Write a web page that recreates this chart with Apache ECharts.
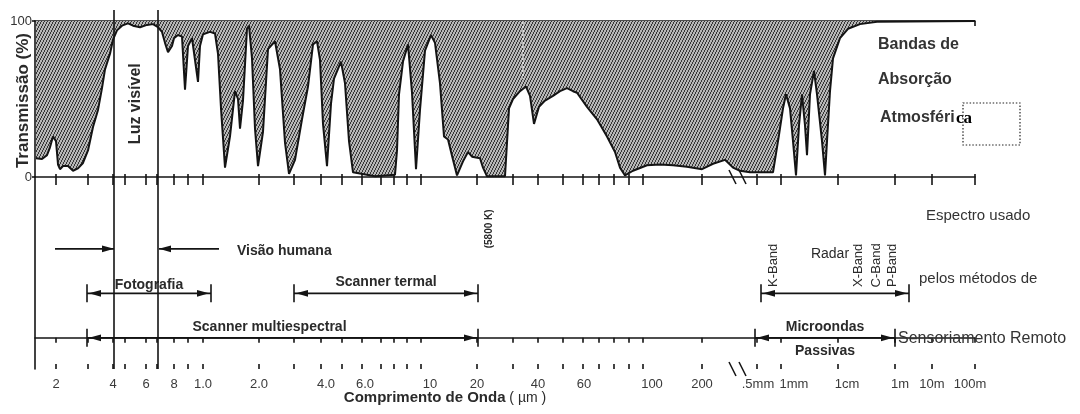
<!DOCTYPE html>
<html>
<head>
<meta charset="utf-8">
<script src="https://cdn.jsdelivr.net/npm/echarts@6.0.0/dist/echarts.min.js"></script>
<style>
html,body{margin:0;padding:0;background:#fff;}
#chart{width:1080px;height:414px;}
</style>
</head>
<body>
<div id="chart"></div>
<script>
// Horizontal axis = positions along the original's hand-drawn, non-uniform wavelength scale
// (0 = left edge at 0.15 µm, 940 = 100 m). Tick labels below name the wavelengths.
const curvePos = [1,7,12,15,18,21,23,25,28,33,38,43,48,53,58,63,67,70,75,78,82,87,93,98,105,112,118,123,127,130,133,137,139,143,147,150,153,157,160,163,165,168,175,180,183,186,190,195,200,203,205,208,212,214,217,220,223,228,233,240,245,250,254,260,267,273,278,282,285,288,292,296,299,306,310,314,318,340,360,362,364,368,373,377,381,385,390,396,400,405,409,413,418,422,428,433,437,445,448,452,470,472,474,478,485,491,495,499,504,510,518,525,532,538,542,552,562,572,580,585,590,598,612,625,638,652,667,678,690,698,705,715,738,744,748,751,755,758,761,764,767,770,772,775,779,782,787,790,792,795,798,805,813,825,842,940];
// Atmospheric transmission (%)
const transmission = [12,11.5,14,19,26,23,8,5,7,7,4,5.5,9,17,32,43,57,69,79,88,94,97,98.5,97,96,97.5,98,96,93,86,80,84,89,91,90,56,84,89,75,61,84,91.5,93,92,79,44,6,26,55,50,31,49,95,97,76,31,7,29,82,87,69,22,2,11,37,58,85,87,75,34,7,47,63,74,60,23,3,0.5,1.5,17,53,74,85,54,5,43,81,91,86,60,26,24,11,1,10,16,13,12,6,0.5,0.5,22,44,50,55,58,52,34,45,49,52,55,57,55,54,45,37,26,16,6,1,4,7.5,8,7.5,6.5,5,8.5,11,6,4,3,3,27,44,53,44,23,1,33,53,33,14,53,68,53,23,1,23,55,76,89,95,98,99.5,100];

// Wavelength scale: tick marks and labels
const tickPos = [21,53,78,90,111,122,139,153,168,224,259,286,307,327,346,359,372,386,442,478,503,528,548,564,579,594,608,667,722,746,803,860,897,940];
const labelPos = [21,78,111,139,168,224,291,330,395,442,503,549,617,667,723,759,812,865,897,935];
const labelText = ['2','4','6','8','1.0','2.0','4.0','6.0','10','20','40','60','100','200','.5mm','1mm','1cm','1m','10m','100m'];

// Visible light limits (0.4 and 0.7 µm) and sun temperature marker (5800 K)
const visibleLimits = [79, 123];
const sunMarkPos = 488;
const sunMarkTop = 100, sunMarkBottom = 63;
const sunLabelPos = 454;

// Spectrum used by remote-sensing methods (rows: 0 bottom, 2 top)
const spanLabels = ['Fotografia','Scanner termal','Scanner multiespectral','Radar','Microondas\nPassivas'];
const spanFrom = [52,259,52,726,720];
const spanTo = [176,443,443,874,860];
const spanRow = [1,1,0,1,0];
const radarBands = ['K-Band','X-Band','C-Band','P-Band'];
const radarBandPos = [738,823,841,857];
const visionFrom = [20,184];
const visionTo = [79,124];
const visionRow = 2;
const breakPos = [697,707];

const INK = '#141414';
const TXT = '#2a2a2a';
const SANS = '"Liberation Sans", Arial, Helvetica, sans-serif';

function makeHatch(){
  const c = document.createElement('canvas'); c.width = 6; c.height = 6;
  const ctx = c.getContext('2d');
  const img = ctx.createImageData(6,6);
  for (let y=0;y<6;y++) for (let x=0;x<6;x++){
    const k = (2*x + y) % 6;
    const v = k < 2 ? 55 : 182;
    const o = (y*6+x)*4;
    img.data[o]=v; img.data[o+1]=v; img.data[o+2]=v; img.data[o+3]=255;
  }
  ctx.putImageData(img,0,0);
  return c;
}
const hatch = {image: makeHatch(), repeat: 'repeat'};

function head(tip, y, dir){
  const L = 12, W = 3.3;
  return {type:'polygon', shape:{points:[[tip,y],[tip-dir*L,y-W],[tip-dir*L,y+W]]}, style:{fill:INK}};
}
function txt(t, x, y, font, extra){
  return Object.assign({type:'text', x:x, y:y, style:{text:t, font:font, fill:TXT, align:'center', verticalAlign:'middle'}}, extra||{});
}

function renderSpan(params, api){
  const i = params.dataIndex;
  const a = api.coord([api.value(0), api.value(2)]);
  const b = api.coord([api.value(1), api.value(2)]);
  const y = a[1];
  const name = spanLabels[i];
  const ls = {stroke:INK, lineWidth:1.6};
  const kids = [
    {type:'line', shape:{x1:a[0],y1:y,x2:b[0],y2:y}, style:ls},
    {type:'line', shape:{x1:a[0],y1:y-9,x2:a[0],y2:y+9}, style:ls},
    {type:'line', shape:{x1:b[0],y1:y-9,x2:b[0],y2:y+9}, style:ls},
    head(a[0]+2, y, -1), head(b[0]-2, y, 1)
  ];
  const mid = (a[0]+b[0])/2;
  if (name === 'Radar') {
    kids.push(txt(name, mid-5, y-39, '14px ' + SANS));
  } else if (name.indexOf('\n') >= 0) {
    const parts = name.split('\n');
    kids.push(txt(parts[0], mid, y-11, 'bold 14px ' + SANS));
    kids.push(txt(parts[1], mid, y+13, 'bold 14px ' + SANS));
  } else {
    const off = name === 'Fotografia' ? 8 : 11;
    const shift = name === 'Scanner multiespectral' ? -13 : 0;
    kids.push(txt(name, mid+shift, y-off, 'bold 14px ' + SANS));
  }
  return {type:'group', children:kids};
}

function renderVision(params, api){
  const a = api.coord([api.value(0), api.value(2)]);
  const b = api.coord([api.value(1), api.value(2)]);
  const dir = b[0] > a[0] ? 1 : -1;
  const kids = [
    {type:'line', shape:{x1:a[0],y1:a[1],x2:b[0],y2:b[1]}, style:{stroke:INK,lineWidth:1.6}},
    head(b[0], b[1], dir)
  ];
  if (params.dataIndex === 1) {
    kids.push({type:'text', x:a[0]+18, y:a[1]+2, style:{text:'Visão humana', font:'bold 14px '+SANS, fill:TXT, align:'left', verticalAlign:'middle'}});
  }
  return {type:'group', children:kids};
}

function renderBand(params, api){
  const p = api.coord([api.value(0), api.value(1)]);
  return {type:'text', x:p[0], y:p[1]-28, rotation:Math.PI/2,
    style:{text:radarBands[params.dataIndex], font:'13px '+SANS, fill:TXT, align:'center', verticalAlign:'middle'}};
}

const baseX = {type:'value', min:0, max:940, splitLine:{show:false}};
const option = {
  animation:false,
  backgroundColor:'#fff',
  grid:[
    {left:35, right:105, top:21, height:156, outerBoundsMode:'none', containLabel:false},
    {left:35, right:105, top:177, height:192, outerBoundsMode:'none', containLabel:false}
  ],
  xAxis:[
    Object.assign({}, baseX, {gridIndex:0, position:'bottom',
      axisLine:{show:true, lineStyle:{color:INK, width:1.6}},
      axisTick:{show:true, customValues:tickPos, length:8, lineStyle:{color:INK, width:1.6}},
      axisLabel:{show:false}}),
    Object.assign({}, baseX, {gridIndex:0, position:'bottom',
      axisLine:{show:false},
      axisTick:{show:true, inside:true, customValues:tickPos, length:3, lineStyle:{color:INK, width:1.6}},
      axisLabel:{show:false}}),
    Object.assign({}, baseX, {gridIndex:0, position:'top',
      axisLine:{show:true, lineStyle:{color:INK, width:1.6}},
      axisTick:{show:true, inside:true, customValues:[940], length:5, lineStyle:{color:INK, width:1.6}},
      axisLabel:{show:false}}),
    Object.assign({}, baseX, {gridIndex:1, position:'bottom',
      axisLine:{show:true, lineStyle:{color:INK, width:1.6}},
      axisTick:{show:true, customValues:tickPos, length:5, lineStyle:{color:INK, width:1.6}},
      axisLabel:{show:true, customValues:labelPos, margin:9, color:'#3a3a3a', fontSize:13,
        fontFamily:'"Liberation Sans Narrow", "Liberation Sans", Arial, sans-serif',
        formatter: v => { const k = labelPos.indexOf(v); return k >= 0 ? labelText[k] : ''; }}}),
    Object.assign({}, baseX, {gridIndex:1, position:'bottom',
      axisLine:{show:false},
      axisTick:{show:true, inside:true, customValues:tickPos, length:5, lineStyle:{color:INK, width:1.6}},
      axisLabel:{show:false}})
  ],
  yAxis:[
    {gridIndex:0, type:'value', min:0, max:100, interval:100,
      axisLine:{show:true, lineStyle:{color:INK, width:1.6}},
      axisTick:{show:true, length:3, lineStyle:{color:INK, width:1.6}},
      axisLabel:{show:true, margin:3, color:'#333', fontSize:13, fontFamily:'"Liberation Sans Narrow", "Liberation Sans", Arial, sans-serif'},
      splitLine:{show:false}},
    {gridIndex:1, type:'value', min:-0.7, max:3.615,
      axisLine:{show:true, lineStyle:{color:INK, width:1.6}},
      axisTick:{show:false}, axisLabel:{show:false}, splitLine:{show:false}}
  ],
  series:[
    {type:'line', xAxisIndex:0, yAxisIndex:0, symbol:'none', smooth:false,
      data: curvePos.map((p,i) => [p, transmission[i]]),
      lineStyle:{color:INK, width:2},
      areaStyle:{origin:'end', color:hatch, opacity:1}, z:3},
    {type:'custom', xAxisIndex:3, yAxisIndex:1, renderItem:renderSpan, encode:{x:[0,1], y:2},
      data: spanLabels.map((n,i) => [spanFrom[i], spanTo[i], spanRow[i]]), z:5},
    {type:'custom', xAxisIndex:3, yAxisIndex:1, renderItem:renderVision, encode:{x:[0,1], y:2},
      data: visionFrom.map((f,i) => [f, visionTo[i], visionRow]), z:5},
    {type:'custom', xAxisIndex:3, yAxisIndex:1, renderItem:renderBand, encode:{x:0, y:1},
      data: radarBandPos.map(p => [p, 1]), z:5}
  ]
};

const chart = echarts.init(document.getElementById('chart'));
chart.setOption(option);

const X = v => chart.convertToPixel({xAxisIndex:3}, v);
const Y0 = v => chart.convertToPixel({yAxisIndex:0}, v);
const Y1 = v => chart.convertToPixel({yAxisIndex:1}, v);
const g = [];
const yBottom = Y1(-0.7);
visibleLimits.forEach(v => g.push({type:'line', z:100,
  shape:{x1:X(v), y1:Y0(100)-11, x2:X(v), y2:yBottom}, style:{stroke:INK, lineWidth:1.6}}));
g.push({type:'text', z:100, x:(X(visibleLimits[0])+X(visibleLimits[1]))/2, y:Y0(47), rotation:Math.PI/2,
  style:{text:'Luz visível', font:'bold 16px '+SANS, fill:TXT, align:'center', verticalAlign:'middle'}});
g.push({type:'text', z:100, x:23, y:Y0(49), rotation:Math.PI/2,
  style:{text:'Transmissão (%)', font:'bold 17px '+SANS, fill:TXT, align:'center', verticalAlign:'middle'}});
g.push({type:'line', z:100, shape:{x1:X(sunMarkPos), y1:Y0(sunMarkTop)+1, x2:X(sunMarkPos), y2:Y0(sunMarkBottom)},
  style:{stroke:'#f2f2f2', lineWidth:1.3, lineDash:[2,2]}});
g.push({type:'text', z:100, x:X(sunLabelPos), y:Y1(visionRow)-20, rotation:Math.PI/2,
  style:{text:'(5800 K)', font:'bold 10px '+SANS, fill:TXT, align:'center', verticalAlign:'middle'}});
[Y0(0), yBottom].forEach(yy => breakPos.forEach(p => g.push({type:'line', z:100,
  shape:{x1:X(p)-3, y1:yy-7, x2:X(p)+4, y2:yy+7}, style:{stroke:INK, lineWidth:1.5}})));
g.push({type:'text', z:100, x:X(410), y:398,
  style:{text:'{b|Comprimento de Onda} ( µm )', rich:{b:{font:'bold 15px '+SANS, fill:TXT}}, font:'14px '+SANS, fill:TXT, align:'center', verticalAlign:'middle'}});
// right-hand side captions
const cap = (t, x, y, font, fill) => ({type:'text', z:100, x:x, y:y, style:{text:t, font:font, fill:fill||TXT, align:'left', verticalAlign:'middle'}});
g.push(cap('Bandas de', 878, 45, 'bold 16px '+SANS, '#333'));
g.push(cap('Absorção', 878, 80, 'bold 16px '+SANS, '#333'));
g.push(cap('Atmosféri', 880, 118, 'bold 16px '+SANS, '#333'));
g.push(cap('ca', 956, 119, 'bold 17px "Liberation Serif", "DejaVu Serif", serif', '#000'));
g.push({type:'rect', z:100, shape:{x:963, y:103, width:57, height:42}, style:{fill:'none', stroke:'#222', lineWidth:1.2, lineDash:[1.5,1.8]}});
g.push(cap('Espectro usado', 926, 216, '15px '+SANS, '#333'));
g.push(cap('pelos métodos de', 919, 279, '15px '+SANS, '#333'));
g.push(cap('Sensoriamento Remoto', 898, 339, '16px '+SANS, '#333'));
chart.setOption({graphic: g});
</script>
</body>
</html>
